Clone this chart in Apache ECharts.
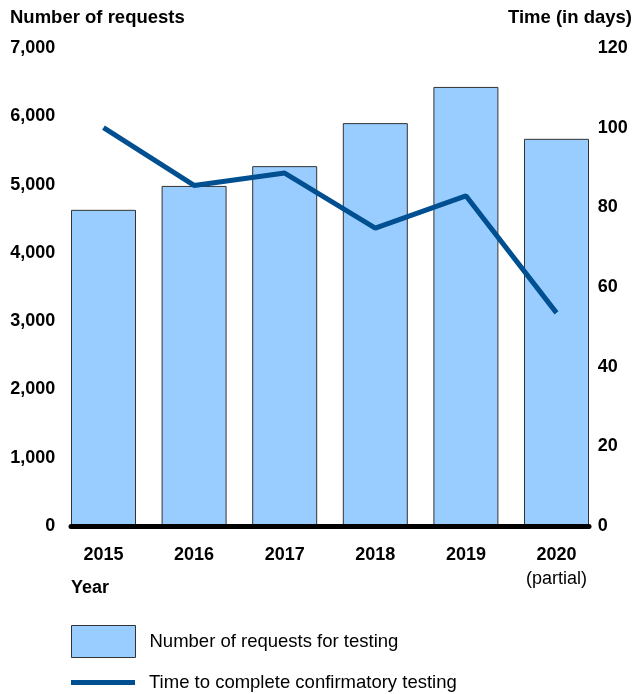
<!DOCTYPE html>
<html>
<head>
<meta charset="utf-8">
<script src="https://cdn.jsdelivr.net/npm/echarts@6/dist/echarts.min.js"></script>
<style>html,body{margin:0;padding:0;background:#fff}#c{width:635px;height:694px}</style>
</head>
<body>
<div id="c"></div>
<script>
const years = ['2015', '2016', '2017', '2018', '2019', '2020'];
const yearNotes = ['', '', '', '', '', '(partial)'];
const requests = [4630, 4980, 5270, 5900, 6430, 5670];
const days = [100, 85.5, 88.6, 74.8, 82.9, 53.5];
const leftTicks = [0, 7000, 1000];
const rightTicks = [0, 120, 20];

const FONT = '"Liberation Sans", Arial, sans-serif';
const FS = 18;
const FT = 18.5;
const chart = echarts.init(document.getElementById('c'));
chart.setOption({
  animation: false,
  textStyle: { fontFamily: FONT },
  title: [
    { text: 'Number of requests', left: 10, top: 8, padding: 0, textStyle: { fontSize: FT, fontWeight: 'bold', color: '#000', fontFamily: FONT } },
    { text: 'Time (in days)', right: 3, top: 8, padding: 0, textStyle: { fontSize: FT, fontWeight: 'bold', color: '#000', fontFamily: FONT } },
    { text: 'Year', left: 71, top: 579, padding: 0, textStyle: { fontSize: FS, fontWeight: 'bold', color: '#000', fontFamily: FONT } }
  ],
  grid: [
    { left: 58.2, right: 33.2, top: 48, bottom: 168 },
    { left: 71, right: 46, top: 48, bottom: 168 }
  ],
  xAxis: [
    {
      type: 'category', gridIndex: 0, data: years,
      axisLine: { show: false }, axisTick: { show: false },
      axisLabel: {
        margin: 17, interval: 0,
        formatter: (v, i) => yearNotes[i] ? '{b|' + v + '}\n{n|' + yearNotes[i] + '}' : '{b|' + v + '}',
        rich: {
          b: { fontSize: FS, fontWeight: 'bold', color: '#000', fontFamily: FONT, lineHeight: 24 },
          n: { fontSize: FS, fontWeight: 'normal', color: '#000', fontFamily: FONT, lineHeight: 24 }
        }
      }
    },
    {
      type: 'value', gridIndex: 1, min: 0, max: 1, z: 10,
      axisLine: { show: true, lineStyle: { color: '#000', width: 5 } },
      axisTick: { show: false }, axisLabel: { show: false }, splitLine: { show: false }
    }
  ],
  yAxis: [
    {
      type: 'value', gridIndex: 0, min: leftTicks[0], max: leftTicks[1], interval: leftTicks[2],
      axisLine: { show: false }, axisTick: { show: false }, splitLine: { show: false },
      axisLabel: { margin: 3, fontSize: FS, fontWeight: 'bold', color: '#000', fontFamily: FONT,
        formatter: v => v.toLocaleString('en-US') }
    },
    {
      type: 'value', gridIndex: 0, min: rightTicks[0], max: rightTicks[1], interval: rightTicks[2], position: 'right',
      axisLine: { show: false }, axisTick: { show: false }, splitLine: { show: false },
      axisLabel: { margin: -4, fontSize: FS, fontWeight: 'bold', color: '#000', fontFamily: FONT }
    },
    { type: 'value', gridIndex: 1, show: false, min: 0, max: 1 }
  ],
  legend: [
    {
      data: [{ name: 'Number of requests for testing', icon: 'rect' }],
      left: 66, top: 620, itemWidth: 64, itemHeight: 32,
      itemStyle: { color: '#99ccff', borderColor: '#333', borderWidth: 1 },
      textStyle: { fontSize: FT, color: '#000', fontFamily: FONT, padding: [0, 0, 0, 9] },
      selectedMode: false
    },
    {
      data: [{ name: 'Time to complete confirmatory testing', icon: 'rect' }],
      left: 66, top: 668, itemWidth: 64, itemHeight: 5,
      itemStyle: { color: '#004f91', borderWidth: 0 },
      textStyle: { fontSize: FT, color: '#000', fontFamily: FONT, padding: [0, 0, 0, 9] },
      selectedMode: false
    }
  ],
  series: [
    {
      name: 'Number of requests for testing', type: 'bar', xAxisIndex: 0, yAxisIndex: 0,
      data: requests, barWidth: 65,
      itemStyle: { color: '#99ccff', borderColor: '#333', borderWidth: 1 }
    },
    {
      name: 'Time to complete confirmatory testing', type: 'line', xAxisIndex: 0, yAxisIndex: 1,
      data: days, symbol: 'none', z: 5,
      lineStyle: { color: '#004f91', width: 5 }, itemStyle: { color: '#004f91' }
    }
  ]
});
</script>
</body>
</html>
